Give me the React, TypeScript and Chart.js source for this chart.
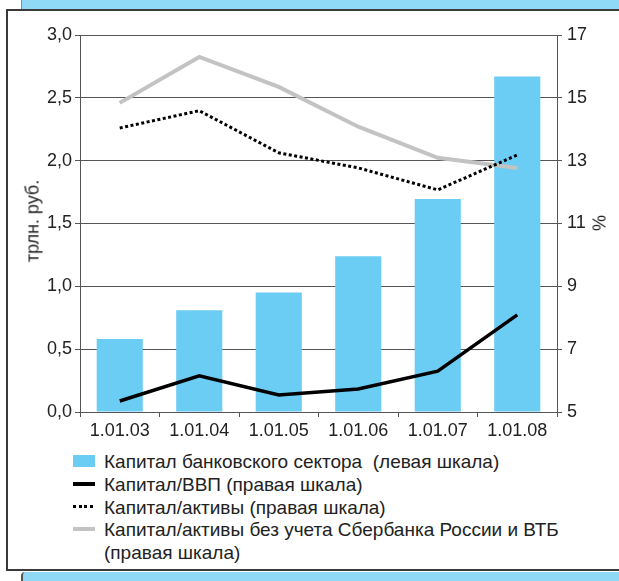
import React, { useEffect, useRef } from "react";
import { Chart, registerables } from "chart.js";

Chart.register(...registerables);

const categories = ["1.01.03", "1.01.04", "1.01.05", "1.01.06", "1.01.07", "1.01.08"];
const bankCapital = [0.58, 0.81, 0.95, 1.24, 1.695, 2.67];
const capitalToGdp = [5.35, 6.15, 5.54, 5.73, 6.3, 8.09];
const capitalToAssets = [14.04, 14.59, 13.25, 12.77, 12.07, 13.18];
const capitalToAssetsExSbVtb = [14.84, 16.3, 15.35, 14.08, 13.09, 12.77];

const legendLabels = [
  "Капитал банковского сектора  (левая шкала)",
  "Капитал/ВВП (правая шкала)",
  "Капитал/активы (правая шкала)",
  "Капитал/активы без учета Сбербанка России и ВТБ",
  "(правая шкала)",
];
const leftAxisTitle = "трлн. руб.";
const rightAxisTitle = "%";

const FONT = "'Liberation Sans', Arial, Helvetica, sans-serif";
const BAR = "#6bcdf4";
const GRID = "#555555";
const TEXT = "#222222";

export default function App() {
  const ref = useRef<HTMLCanvasElement | null>(null);

  useEffect(() => {
    if (!ref.current) return;
    const chart = new Chart(ref.current, {
      data: {
        labels: categories,
        datasets: [
          {
            type: "bar",
            data: bankCapital,
            backgroundColor: BAR,
            borderWidth: 0,
            yAxisID: "y",
            order: 4,
            barPercentage: 0.58,
            categoryPercentage: 1,
          },
          {
            type: "line",
            data: capitalToAssetsExSbVtb,
            borderColor: "#c3c3c3",
            borderWidth: 4,
            pointRadius: 0,
            tension: 0,
            yAxisID: "y1",
            order: 3,
          },
          {
            type: "line",
            data: capitalToAssets,
            borderColor: "#000000",
            borderWidth: 3,
            borderDash: [3, 2.5],
            borderCapStyle: "butt",
            pointRadius: 0,
            tension: 0,
            yAxisID: "y1",
            order: 2,
          },
          {
            type: "line",
            data: capitalToGdp,
            borderColor: "#000000",
            borderWidth: 3.5,
            pointRadius: 0,
            tension: 0,
            yAxisID: "y1",
            order: 1,
          },
        ],
      } as any,
      options: {
        animation: false,
        responsive: false,
        maintainAspectRatio: false,
        layout: { padding: { top: 35, left: 0, right: 0, bottom: 0 } },
        plugins: { legend: { display: false }, tooltip: { enabled: false } },
        scales: {
          x: {
            offset: true,
            grid: {
              display: true,
              offset: true,
              drawOnChartArea: false,
              tickLength: 5,
              color: GRID,
            },
            border: { display: true, color: GRID, width: 1 },
            ticks: { color: TEXT, font: { family: FONT, size: 18 }, padding: 3, maxRotation: 0 },
            afterFit: (s: any) => {
              s.height = 33;
            },
          },
          y: {
            position: "left",
            min: 0,
            max: 3,
            ticks: {
              stepSize: 0.5,
              color: TEXT,
              font: { family: FONT, size: 18 },
              padding: 3,
              callback: (v: any) => Number(v).toFixed(1).replace(".", ","),
            },
            grid: { color: GRID, tickLength: 5, lineWidth: 1 },
            border: { display: true, color: GRID, width: 1 },
            afterFit: (s: any) => {
              s.width = 80;
            },
          },
          y1: {
            position: "right",
            min: 5,
            max: 17,
            ticks: { stepSize: 2, color: TEXT, font: { family: FONT, size: 18 }, padding: 5 },
            grid: { color: GRID, tickLength: 5, drawOnChartArea: false },
            border: { display: true, color: GRID, width: 1 },
            afterFit: (s: any) => {
              s.width = 62;
            },
          },
        },
      } as any,
    });
    return () => chart.destroy();
  }, []);

  const rowTops = [462, 485, 508, 530, 553];

  return (
    <div
      style={{
        position: "fixed",
        left: 0,
        top: 0,
        width: 619,
        height: 581,
        overflow: "hidden",
        background: "#ffffff",
        fontFamily: FONT,
        color: TEXT,
      }}
    >
      <div
        style={{
          position: "absolute",
          left: 21,
          top: 0,
          width: 620,
          height: 10,
          background: "#8fd8f6",
          borderLeft: "1px solid #8a8a8a",
        }}
      />
      <div
        style={{
          position: "absolute",
          left: 21,
          top: 572,
          width: 620,
          height: 14,
          background: "#8fd8f6",
          borderLeft: "2px solid #555",
          borderTopLeftRadius: 4,
        }}
      />
      <div
        style={{
          position: "absolute",
          left: 6,
          top: 9,
          width: 640,
          height: 562,
          background: "#ffffff",
          border: "2px solid #3a3a3a",
          boxSizing: "border-box",
        }}
      />
      <canvas
        ref={ref}
        width={619}
        height={445}
        style={{ position: "absolute", left: 0, top: 0, width: 619, height: 445 }}
      />
      <div
        style={{
          position: "absolute",
          left: 33,
          top: 221,
          transform: "translate(-50%, -50%) rotate(-90deg)",
          fontSize: 18,
          whiteSpace: "nowrap",
        }}
      >
        {leftAxisTitle}
      </div>
      <div
        style={{
          position: "absolute",
          left: 600,
          top: 223,
          transform: "translate(-50%, -50%) rotate(-90deg)",
          fontSize: 18,
          whiteSpace: "nowrap",
        }}
      >
        {rightAxisTitle}
      </div>
      {legendLabels.map((label, i) => (
        <div
          key={i}
          style={{
            position: "absolute",
            left: 104,
            top: rowTops[i],
            transform: "translateY(-50%)",
            fontSize: 19,
            lineHeight: "22px",
            whiteSpace: "pre",
          }}
        >
          {label}
        </div>
      ))}
      <div style={{ position: "absolute", left: 73, top: 455, width: 22, height: 12, background: BAR }} />
      <div style={{ position: "absolute", left: 73, top: 482, width: 22, height: 3.5, background: "#000" }} />
      <div
        style={{
          position: "absolute",
          left: 73,
          top: 505,
          width: 22,
          height: 3,
          background: "repeating-linear-gradient(90deg, #000 0 3px, transparent 3px 5.5px)",
        }}
      />
      <div style={{ position: "absolute", left: 73, top: 527, width: 22, height: 4, background: "#c3c3c3" }} />
    </div>
  );
}
